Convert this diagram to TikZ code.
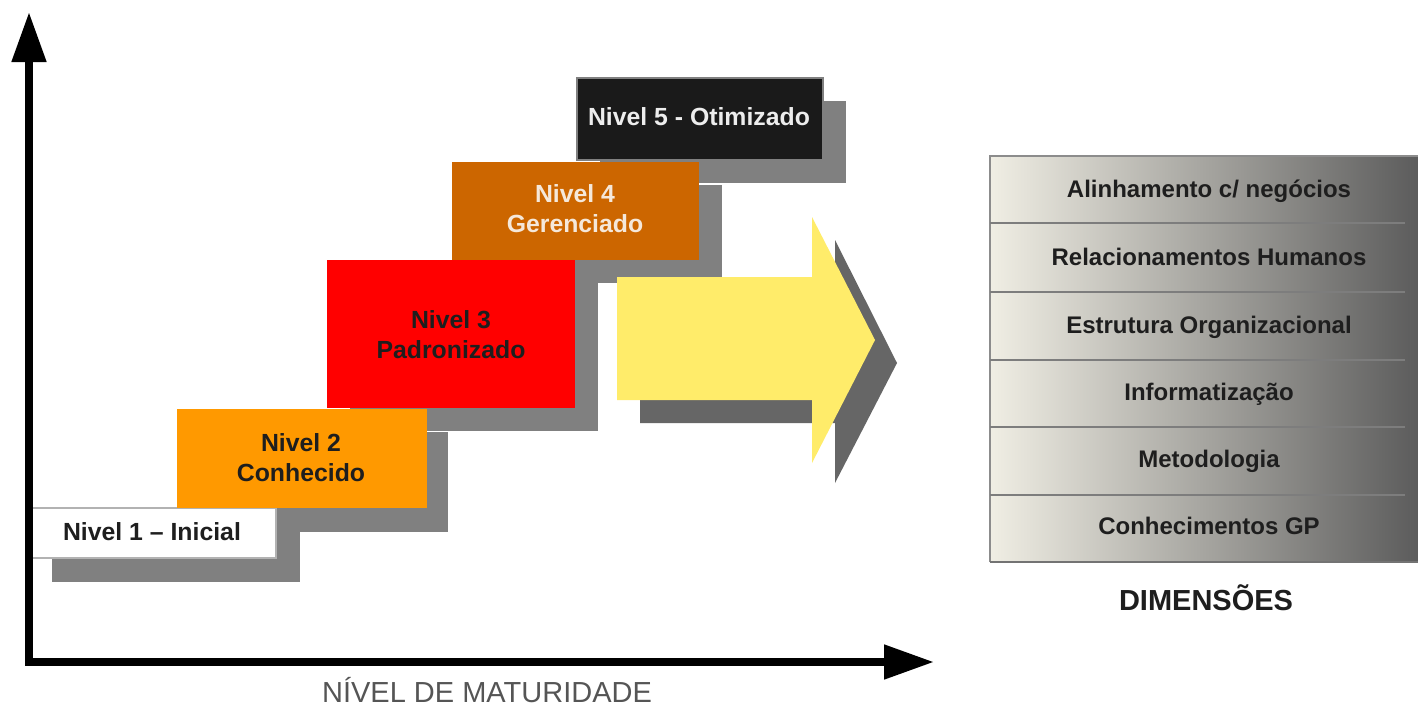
\documentclass[tikz,border=0pt]{standalone}
\usepackage{fontspec}
\setmainfont{Liberation Sans}
\usetikzlibrary{arrows.meta}
\definecolor{shadowgray}{RGB}{128,128,128}
\definecolor{arrowshadow}{RGB}{102,102,102}
\definecolor{lvlone}{RGB}{255,255,255}
\definecolor{lvltwo}{RGB}{255,153,0}
\definecolor{lvlthree}{RGB}{255,0,0}
\definecolor{lvlfour}{RGB}{204,102,0}
\definecolor{lvlfive}{RGB}{26,26,26}
\definecolor{arrowyellow}{RGB}{255,236,106}
\definecolor{dimleft}{RGB}{240,238,228}
\definecolor{dimmid}{RGB}{200,198,186}
\definecolor{dimright}{RGB}{92,92,92}
\definecolor{darktext}{RGB}{30,30,30}
\definecolor{lighttext}{RGB}{245,232,218}
\definecolor{axislabel}{RGB}{85,85,85}
\tikzset{
  shadowbox/.style={fill=shadowgray},
  lvltext/.style={inner sep=0pt, align=center, font=\bfseries\fontsize{12.4}{15}\selectfont, text=darktext},
  dimtext/.style={inner sep=0pt, anchor=base, font=\bfseries\fontsize{12}{14}\selectfont, text=darktext},
  sepline/.style={draw=dimright!80!white, line width=1pt},
  axisline/.style={line width=4pt, line join=miter, {Triangle[length=25pt,width=16.5pt]}-{Triangle[length=25pt,width=16.5pt]}}
}
\begin{document}
\begin{tikzpicture}[x=0.5pt,y=-0.5pt]
\useasboundingbox (0,0) rectangle (1418,708);
\fill[white] (0,0) rectangle (1418,708);

% shadows of the level boxes
\fill[shadowbox] (52,532) rectangle (300,582);
\fill[shadowbox] (199,432) rectangle (448,532);
\fill[shadowbox] (350,283) rectangle (598,431);
\fill[shadowbox] (475,185) rectangle (722,283);
\fill[shadowbox] (600,101) rectangle (846,183);

% level boxes
\filldraw[fill=lvlone, draw=black!30, line width=0.8pt] (30,508) rectangle (276,558);
\fill[lvltwo] (177,409) rectangle (427,508);
\fill[lvlthree] (327,260) rectangle (575,408);
\fill[lvlfour] (452,162) rectangle (699,260);
\filldraw[fill=lvlfive, draw=black!50, line width=0.8pt] (577,78) rectangle (823,160);

\node[lvltext] (n1) at (152,532) {Nivel 1 -- Inicial};
\node[lvltext] (n2) at (301,458) {Nivel 2\\Conhecido};
\node[lvltext] (n3) at (451,335) {Nivel 3\\Padronizado};
\node[lvltext, text=lighttext] (n4) at (575,209) {Nivel 4\\Gerenciado};
\node[lvltext, text=white!93!black] (n5) at (699,117) {Nivel 5 - Otimizado};

% big arrow with its shadow
\fill[arrowshadow] (640,300) -- (835,300) -- (835,240) -- (897,363) -- (835,483) -- (835,423) -- (640,423) -- cycle;
\fill[arrowyellow] (617,277) -- (812,277) -- (812,217) -- (875,340) -- (812,463) -- (812,400) -- (617,400) -- cycle;

% axes
\coordinate (ytip) at (29,12);
\coordinate (origin) at (29,662);
\coordinate (xtip) at (934,662);
\draw[axisline] (ytip) -- (origin) -- (xtip);
\node[inner sep=0pt, anchor=base, text=axislabel, font=\fontsize{14.5}{16}\selectfont] (xlabel) at (487,702) {NÍVEL DE MATURIDADE};

% dimensions table
\shade[left color=dimleft, middle color=dimmid, right color=dimright] (990,156) rectangle (1418,562);
\draw[draw=black!45, line width=1pt] (990,562) -- (990,156) -- (1418,156);
\draw[draw=black!55, line width=1.2pt] (990,562) -- (1418,562);
\foreach \yy in {223,292,360,427,495} {
  \draw[sepline] (990,\yy) -- (1405,\yy);
}
\node[dimtext] (d1) at (1209,197) {Alinhamento c/ negócios};
\node[dimtext] (d2) at (1209,265) {Relacionamentos Humanos};
\node[dimtext] (d3) at (1209,333) {Estrutura Organizacional};
\node[dimtext] (d4) at (1209,400) {Informatização};
\node[dimtext] (d5) at (1209,467) {Metodologia};
\node[dimtext] (d6) at (1209,534) {Conhecimentos GP};
\node[inner sep=0pt, anchor=base, text=darktext, font=\bfseries\fontsize{14.5}{16}\selectfont] (dimlabel) at (1206,610) {DIMENSÕES};
\end{tikzpicture}
\end{document}
